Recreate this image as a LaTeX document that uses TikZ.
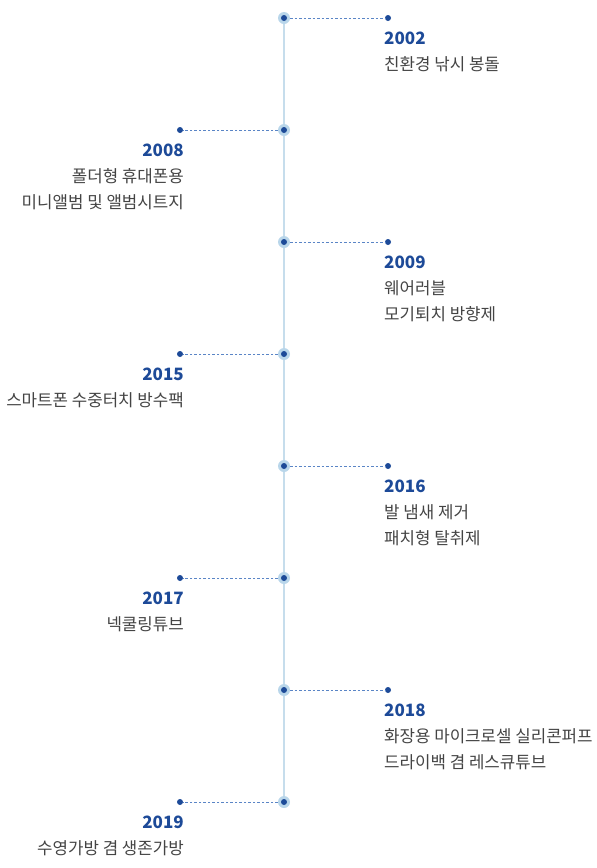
\documentclass[tikz,border=0pt]{standalone}
\usepackage{fontspec}
\setmainfont{Noto Sans CJK KR}
\usepackage{xcolor}
\definecolor{tlline}{HTML}{C6DDEC}
\definecolor{tlhalo}{HTML}{B9D6EA}
\definecolor{tldot}{HTML}{1D4A98}
\definecolor{tldash}{HTML}{5A85C6}
\definecolor{tltext}{HTML}{444444}
\usetikzlibrary{positioning}
\tikzset{
  tlhub/.style={circle,fill=tlhalo,minimum size=12pt,inner sep=0pt,
    path picture={\fill[tldot] (path picture bounding box.center) circle (3pt);}},
  tlend/.style={circle,fill=tldot,minimum size=6pt,inner sep=0pt},
  tllink/.style={draw=tldash,line width=0.9pt,dash pattern=on 2.5pt off 2pt},
  tlyear/.style={font=\fontsize{17}{20}\selectfont\bfseries,text=tldot,inner sep=0pt},
  tldesc/.style={font=\fontsize{16.8}{26}\selectfont,text=tltext,inner sep=0pt},
}

\begin{document}
\begin{tikzpicture}[x=1pt,y=-1pt]
\useasboundingbox (0,0) rectangle (597,868);
\draw[tlline,line width=1.2pt] (284,18) -- (284,802);

% 2002
\node[tlhub] (h02) at (284,18) {};
\node[tlend] (e02) at (388,18) {};
\draw[tllink] (h02) -- (e02);
\node[tlyear,anchor=base west] (y02) at (384,44) {2002};
\node[tldesc,anchor=north west,align=left] (d02) at (384,56.5) {친환경 낚시 봉돌};

% 2008
\node[tlhub] (h08) at (284,130) {};
\node[tlend] (e08) at (180,130) {};
\draw[tllink] (h08) -- (e08);
\node[tlyear,anchor=base east] (y08) at (184,156) {2008};
\node[tldesc,anchor=north east,align=right] (d08) at (184,168.5) {폴더형 휴대폰용\\미니앨범 및 앨범시트지};

% 2009
\node[tlhub] (h09) at (284,242) {};
\node[tlend] (e09) at (388,242) {};
\draw[tllink] (h09) -- (e09);
\node[tlyear,anchor=base west] (y09) at (384,268) {2009};
\node[tldesc,anchor=north west,align=left] (d09) at (384,280.5) {웨어러블\\모기퇴치 방향제};

% 2015
\node[tlhub] (h15) at (284,354) {};
\node[tlend] (e15) at (180,354) {};
\draw[tllink] (h15) -- (e15);
\node[tlyear,anchor=base east] (y15) at (184,380) {2015};
\node[tldesc,anchor=north east,align=right] (d15) at (184,392.5) {스마트폰 수중터치 방수팩};

% 2016
\node[tlhub] (h16) at (284,466) {};
\node[tlend] (e16) at (388,466) {};
\draw[tllink] (h16) -- (e16);
\node[tlyear,anchor=base west] (y16) at (384,492) {2016};
\node[tldesc,anchor=north west,align=left] (d16) at (384,504.5) {발 냄새 제거\\패치형 탈취제};

% 2017
\node[tlhub] (h17) at (284,578) {};
\node[tlend] (e17) at (180,578) {};
\draw[tllink] (h17) -- (e17);
\node[tlyear,anchor=base east] (y17) at (184,604) {2017};
\node[tldesc,anchor=north east,align=right] (d17) at (184,616.5) {넥쿨링튜브};

% 2018
\node[tlhub] (h18) at (284,690) {};
\node[tlend] (e18) at (388,690) {};
\draw[tllink] (h18) -- (e18);
\node[tlyear,anchor=base west] (y18) at (384,716) {2018};
\node[tldesc,anchor=north west,align=left] (d18) at (384,728.5) {화장용 마이크로셀 실리콘퍼프\\드라이백 겸 레스큐튜브};

% 2019
\node[tlhub] (h19) at (284,802) {};
\node[tlend] (e19) at (180,802) {};
\draw[tllink] (h19) -- (e19);
\node[tlyear,anchor=base east] (y19) at (184,828) {2019};
\node[tldesc,anchor=north east,align=right] (d19) at (184,840.5) {수영가방 겸 생존가방};
\end{tikzpicture}
\end{document}
